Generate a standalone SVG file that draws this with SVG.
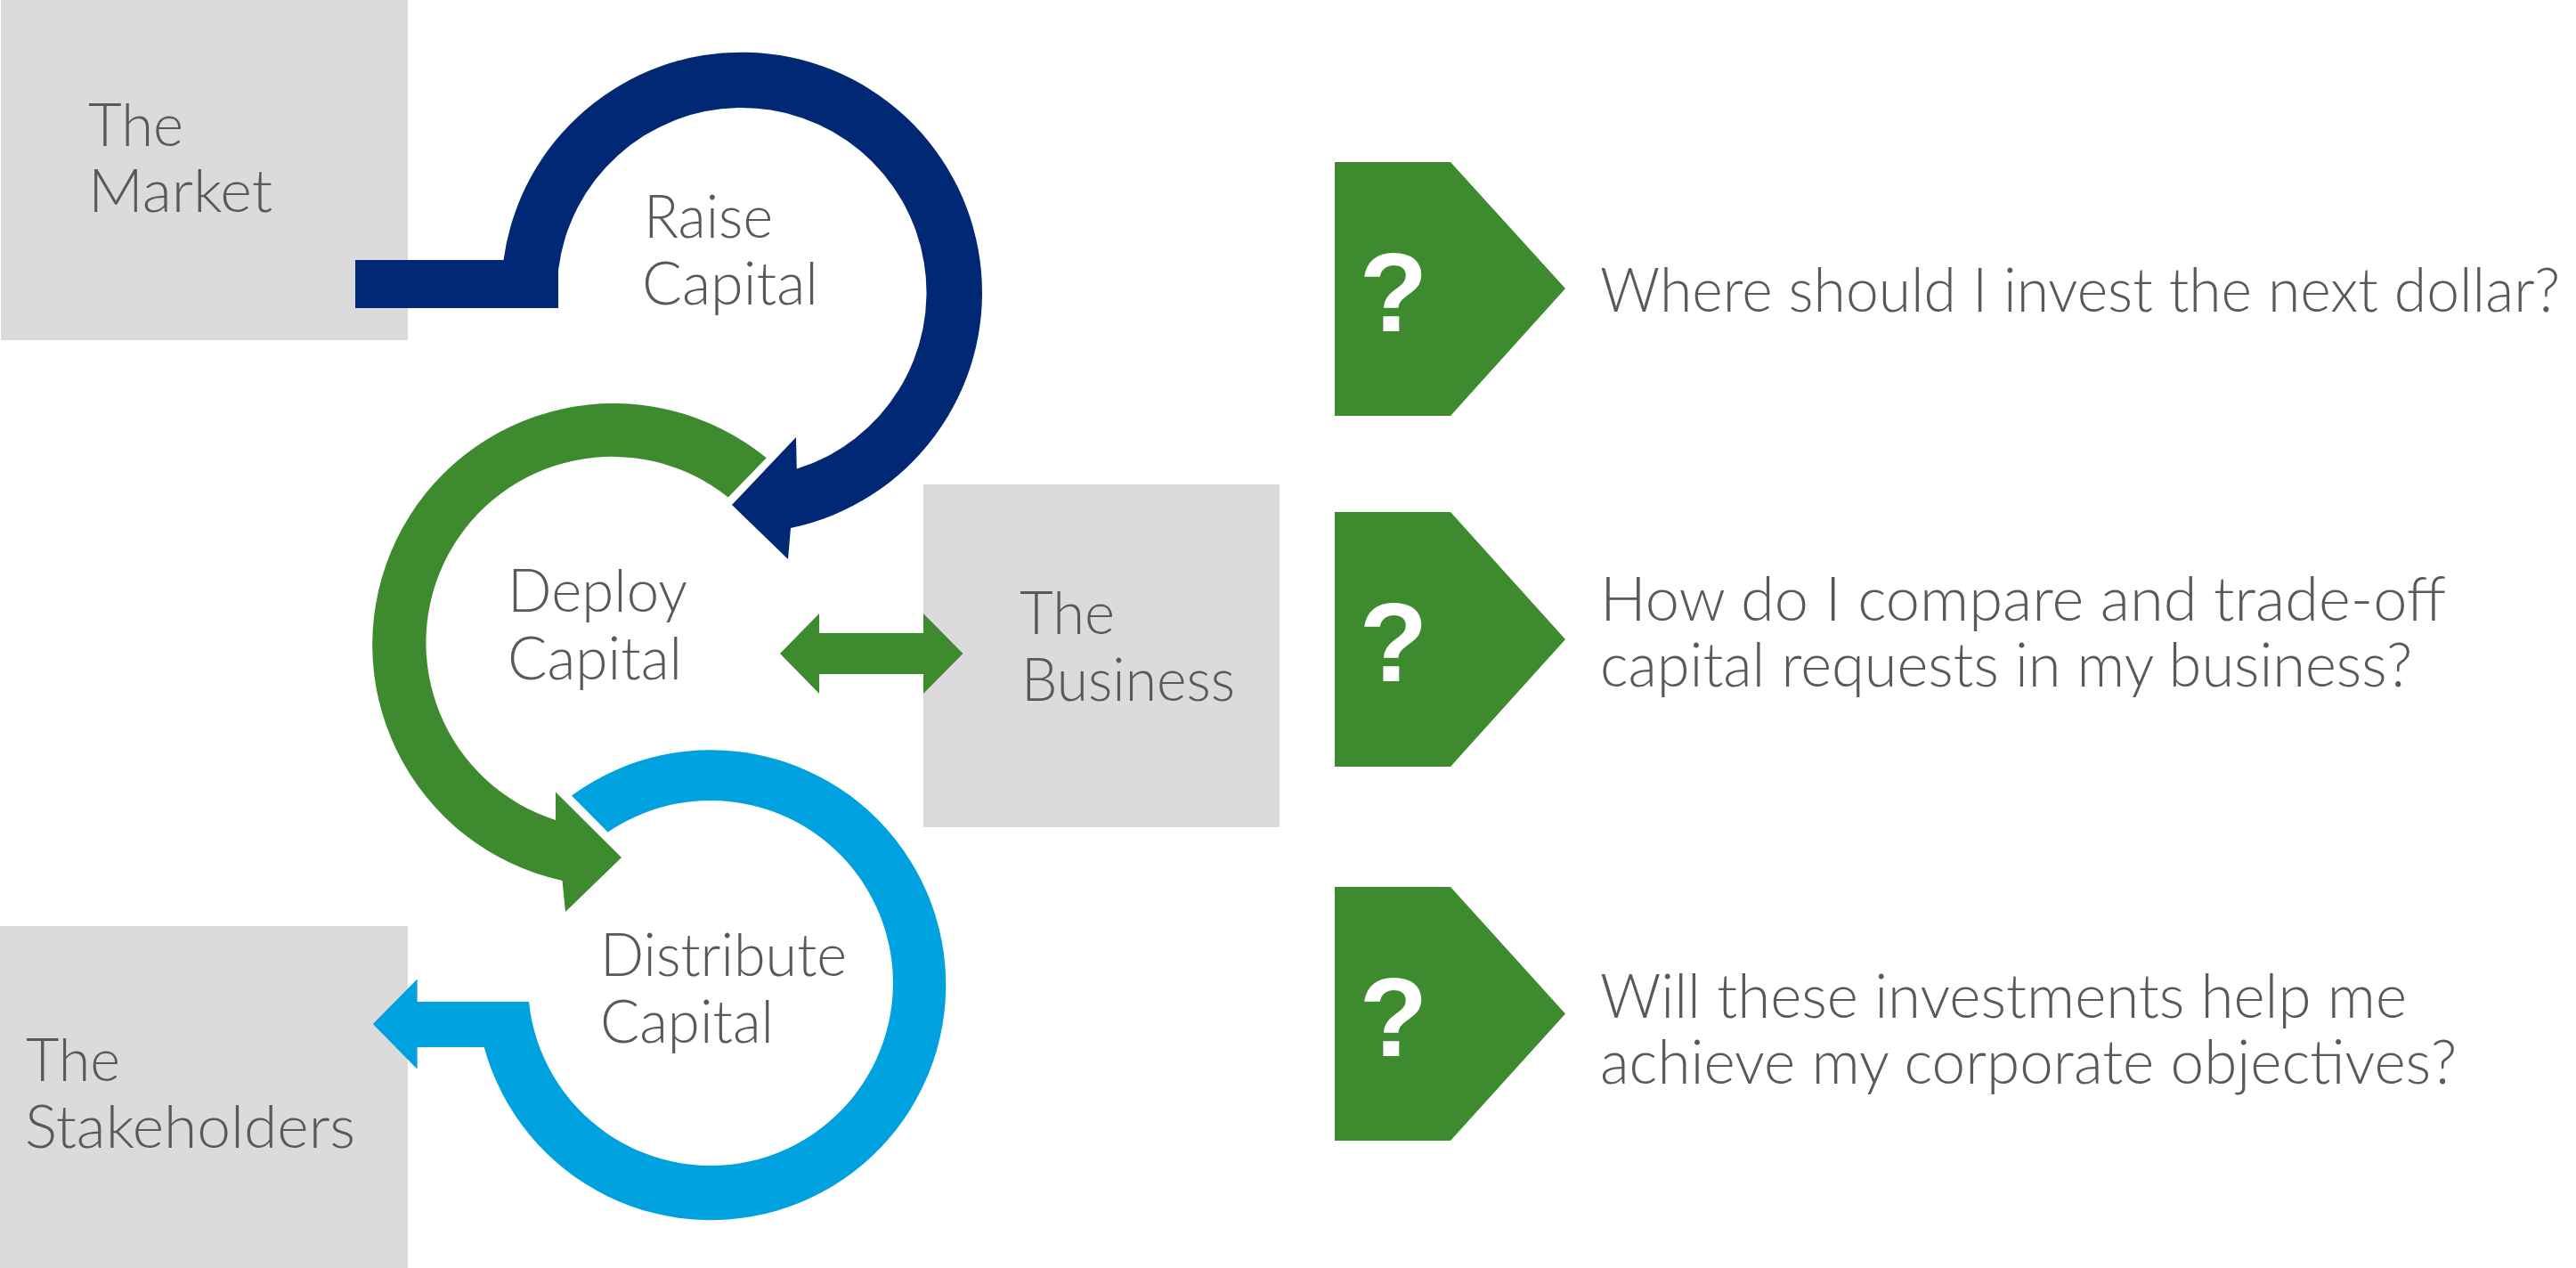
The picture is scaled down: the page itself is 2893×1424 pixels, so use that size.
<svg xmlns="http://www.w3.org/2000/svg" width="2893" height="1424" viewBox="0 0 2893 1424">
<style>
.box{fill:#DBDBDB}
.lbl{font-family:Lato,"Open Sans","Liberation Sans",sans-serif;font-weight:300;font-size:67px;fill:#595959}
.q{font-family:Lato,"Open Sans","Liberation Sans",sans-serif;font-weight:300;font-size:68px;fill:#595959}
.qm{font-family:"Liberation Sans",Arial,sans-serif;font-weight:bold;font-size:126px;fill:#FFFFFF;text-anchor:middle}
.qbox{fill:#3E8A2F}
.navy{fill:#012875}
.green{fill:#3E8A2F}
.blue{fill:#00A1DF}
</style>
<rect width="2893" height="1424" fill="#FFFFFF"/>

<g id="node-market">
<rect class="box" x="1" y="0" width="457" height="382"/>
<text class="lbl" x="99" y="164" textLength="107" lengthAdjust="spacingAndGlyphs">The</text>
<text class="lbl" x="99" y="238" textLength="207" lengthAdjust="spacingAndGlyphs">Market</text>
</g>

<g id="node-business">
<rect class="box" x="1037" y="544" width="400" height="385"/>
<text class="lbl" x="1145" y="712" textLength="107" lengthAdjust="spacingAndGlyphs">The</text>
<text class="lbl" x="1147" y="787" textLength="240" lengthAdjust="spacingAndGlyphs">Business</text>
</g>

<g id="node-stakeholders">
<rect class="box" x="0" y="1040" width="458" height="384"/>
<text class="lbl" x="29" y="1214" textLength="106" lengthAdjust="spacingAndGlyphs">The</text>
<text class="lbl" x="28" y="1289" textLength="371" lengthAdjust="spacingAndGlyphs">Stakeholders</text>
</g>

<g id="connectors">
<path id="arrow-raise" class="navy" d="M399,292 H565.5 A270,270 0 1 1 888,593 L885,628 L822,567 L894,491 L894.8,526.6 A207.5,207.5 0 1 0 627,303.6 L627,346 H399 Z"/>
<path id="arrow-deploy" class="green" d="M860.7,514.3 A271,271 0 1 0 631.5,988.9 L635,1024 L698,963 L624,889.5 L624,921 A209,209 0 1 1 817.8,558.5 Z"/>
<path id="arrow-distribute" class="blue" d="M642,893.5 A264,264 0 1 1 543.7,1176 L468.6,1176 L468.6,1200.7 L418.8,1150 L468.6,1099.6 L468.6,1125 L594,1125 A205,205 0 1 0 682.6,934.5 Z"/>
<path id="arrow-deploy-business" class="green" d="M876,734 L920,689 V711 H1037 V689 L1081.5,734 L1037,779 V757 H920 V779 Z"/>
</g>

<g id="node-raise">
<text class="lbl" x="723" y="267" textLength="145" lengthAdjust="spacingAndGlyphs">Raise</text>
<text class="lbl" x="721" y="342" textLength="198" lengthAdjust="spacingAndGlyphs">Capital</text>
</g>

<g id="node-deploy">
<text class="lbl" x="570" y="687" textLength="202" lengthAdjust="spacingAndGlyphs">Deploy</text>
<text class="lbl" x="570" y="763" textLength="196" lengthAdjust="spacingAndGlyphs">Capital</text>
</g>

<g id="node-distribute">
<text class="lbl" x="674" y="1096" textLength="277" lengthAdjust="spacingAndGlyphs">Distribute</text>
<text class="lbl" x="674" y="1171" textLength="195" lengthAdjust="spacingAndGlyphs">Capital</text>
</g>

<g id="question-1">
<path class="qbox" d="M1499,182 H1629 L1758,324 L1629,467 H1499 Z"/>
<text class="qm" x="1565" y="372">?</text>
<text class="q" x="1797" y="350" textLength="1078" lengthAdjust="spacingAndGlyphs">Where should I invest the next dollar?</text>
</g>

<g id="question-2">
<path class="qbox" d="M1499,575 H1629 L1758,718 L1629,861 H1499 Z"/>
<text class="qm" x="1565" y="765">?</text>
<text class="q" x="1797" y="697" textLength="950" lengthAdjust="spacingAndGlyphs">How do I compare and trade-off</text>
<text class="q" x="1797" y="771" textLength="912" lengthAdjust="spacingAndGlyphs">capital requests in my business?</text>
</g>

<g id="question-3">
<path class="qbox" d="M1499,996 H1629 L1758,1138.5 L1629,1281 H1499 Z"/>
<text class="qm" x="1565" y="1186">?</text>
<text class="q" x="1797" y="1143" textLength="906" lengthAdjust="spacingAndGlyphs">Will these investments help me</text>
<text class="q" x="1797" y="1217" textLength="962" lengthAdjust="spacingAndGlyphs">achieve my corporate objectives?</text>
</g>
</svg>
